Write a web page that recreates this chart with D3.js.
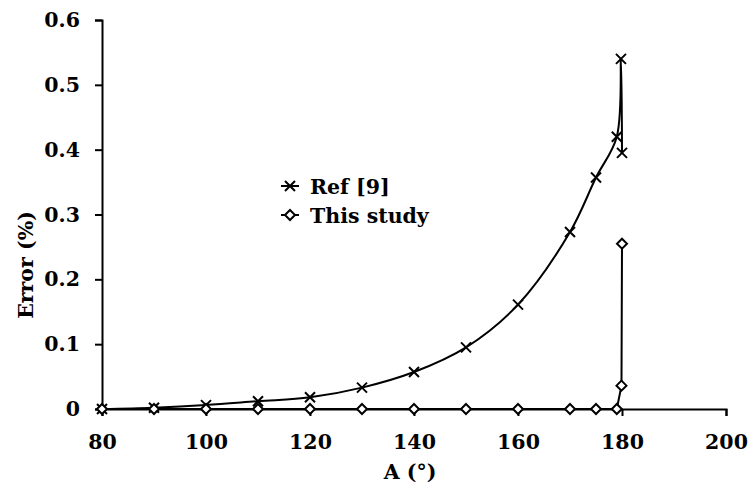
<!DOCTYPE html>
<html>
<head>
<meta charset="utf-8">
<script src="https://cdn.jsdelivr.net/npm/d3@7"></script>
<style>
  body { margin: 0; background: #fff; }
  svg text { font-family: "DejaVu Serif", serif; font-weight: bold; fill: #000; }
</style>
</head>
<body>
<svg id="chart" width="751" height="486"></svg>
<script>
// angle A (deg) and error (%)
const refAngles = [80, 90, 100, 110, 120, 130, 140, 150, 160, 170, 175, 179, 179.8, 180]
const refErrors = [0, 0.002, 0.006, 0.012, 0.018, 0.033, 0.057, 0.095, 0.161, 0.273, 0.357, 0.42, 0.54, 0.395]

const studyAngles = [80, 90, 100, 110, 120, 130, 140, 150, 160, 170, 175, 179, 179.9, 180]
const studyErrors = [0, 0, 0, 0, 0, 0, 0, 0, 0, 0, 0, 0, 0.036, 0.255]

const xTicks = [80, 100, 120, 140, 160, 180, 200]
const yTicks = [0, 0.1, 0.2, 0.3, 0.4, 0.5, 0.6]
const seriesNames = ['Ref [9]', 'This study']

const svg = d3.select('#chart')
const fontSize = 20.5

const x = d3.scaleLinear().domain([80, 200]).range([102, 726])
const y = d3.scaleLinear().domain([0, 0.6]).range([409, 20])

// axes
const xAxis = svg.append('g')
  .attr('transform', 'translate(0,' + y(0) + ')')
  .call(d3.axisBottom(x).tickValues(xTicks).tickSizeOuter(0).tickSize(7).tickFormat(d3.format('d')))
xAxis.selectAll('text').attr('y', 40).attr('dy', 0).style('font-size', fontSize + 'px')

const yAxis = svg.append('g')
  .attr('transform', 'translate(' + x(80) + ',0)')
  .call(d3.axisLeft(y).tickValues(yTicks).tickSizeOuter(0).tickSize(7).tickPadding(15)
    .tickFormat(d => d === 0 ? '0' : d3.format('.1f')(d)))
yAxis.selectAll('text').style('font-size', fontSize + 'px')

svg.selectAll('.domain, .tick line').attr('stroke', '#000').attr('stroke-width', 2)

// axis titles
svg.append('text')
  .attr('x', 410).attr('y', 479)
  .attr('text-anchor', 'middle')
  .style('font-size', fontSize + 'px')
  .text('A (°)')

svg.append('text')
  .attr('transform', 'translate(33,265) rotate(-90)')
  .attr('text-anchor', 'middle')
  .style('font-size', fontSize + 'px')
  .text('Error (%)')

const refData = refAngles.map((a, i) => [a, refErrors[i]])
const studyData = studyAngles.map((a, i) => [a, studyErrors[i]])

function crossPath (s) {
  return 'M' + (-s) + ',' + (-s) + 'L' + s + ',' + s + 'M' + (-s) + ',' + s + 'L' + s + ',' + (-s)
}
function diamondPath (s) {
  return 'M0,' + (-s) + 'L' + s + ',0L0,' + s + 'L' + (-s) + ',0Z'
}

function drawSeries (data, curve, markerPath, filled) {
  const line = d3.line()
    .x(d => x(d[0]))
    .y(d => y(d[1]))
    .curve(curve)

  svg.append('path')
    .datum(data)
    .attr('d', line)
    .attr('fill', 'none')
    .attr('stroke', '#000')
    .attr('stroke-width', 2)

  svg.append('g').selectAll('path')
    .data(data)
    .enter()
    .append('path')
    .attr('transform', d => 'translate(' + x(d[0]) + ',' + y(d[1]) + ')')
    .attr('d', markerPath)
    .attr('fill', filled)
    .attr('stroke', '#000')
    .attr('stroke-width', 2)
}

drawSeries(refData, d3.curveCatmullRom.alpha(0.5), crossPath(5), 'none')
drawSeries(studyData, d3.curveLinear, diamondPath(5), '#fff')

// legend
const legendRows = [
  { name: seriesNames[0], y: 186, marker: crossPath(5), fill: 'none' },
  { name: seriesNames[1], y: 215, marker: diamondPath(5), fill: '#fff' }
]
const legend = svg.append('g').selectAll('g')
  .data(legendRows)
  .enter()
  .append('g')
  .attr('transform', d => 'translate(0,' + d.y + ')')

legend.append('line')
  .attr('x1', 281).attr('x2', 299)
  .attr('stroke', '#000').attr('stroke-width', 2)
legend.append('path')
  .attr('transform', 'translate(290,0)')
  .attr('d', d => d.marker)
  .attr('fill', d => d.fill)
  .attr('stroke', '#000').attr('stroke-width', 2)
legend.append('text')
  .attr('x', 310).attr('y', 8)
  .style('font-size', fontSize + 'px')
  .text(d => d.name)
</script>
</body>
</html>
